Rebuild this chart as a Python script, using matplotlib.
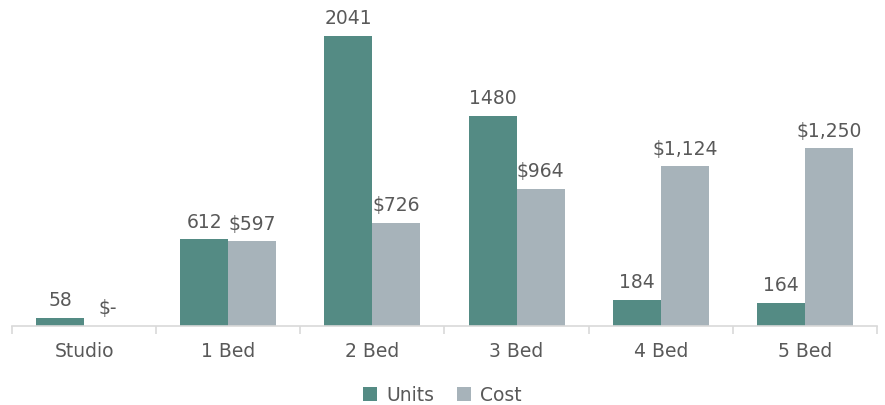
import matplotlib
matplotlib.use("Agg")
import matplotlib.pyplot as plt
import numpy as np

categories = ["Studio", "1 Bed", "2 Bed", "3 Bed", "4 Bed", "5 Bed"]
units = [58, 612, 2041, 1480, 184, 164]
cost = [0, 597, 726, 964, 1124, 1250]
unit_labels = ["58", "612", "2041", "1480", "184", "164"]
cost_labels = ["$-", "$597", "$726", "$964", "$1,124", "$1,250"]

teal = "#548B84"
grey = "#A7B3BA"
txt = "#595959"
plt.rcParams['font.family'] = ['DejaVu Sans']

fig = plt.figure(figsize=(8.85, 4.06), dpi=100)
ax = fig.add_axes([12/885, 1-327/406, 865/885, 327/406])
x = np.arange(len(categories))
w = 1/3
b1 = ax.bar(x - w/2, units, w, color=teal, label="Units")
b2 = ax.bar(x + w/2, cost, w, color=grey, label="Cost")
fs = 13.5
for xi, v, l in zip(x, units, unit_labels):
    ax.text(xi - w/2, v + 60, l, ha='center', va='bottom', fontsize=fs, color=txt)
for xi, v, l in zip(x, cost, cost_labels):
    ax.text(xi + w/2, v + 60, l, ha='center', va='bottom', fontsize=fs, color=txt)

ax.set_xlim(-0.5, len(categories) - 0.5)
ax.set_ylim(0, 2301)
ax.set_yticks([])
for s in ['top', 'right', 'left']:
    ax.spines[s].set_visible(False)
ax.spines['bottom'].set_color('#D9D9D9')
ax.spines['bottom'].set_linewidth(1.2)
ax.set_xticks(x)
ax.set_xticklabels(categories, fontsize=fs, color=txt)
ax.tick_params(axis='x', which='major', length=0, pad=11)
ax.set_xticks(np.arange(-0.5, len(categories)), minor=True)
ax.tick_params(axis='x', which='minor', length=6, color='#D9D9D9', width=1.2)

leg = fig.legend(handles=[b1, b2], labels=["Units", "Cost"], loc='center',
                 bbox_to_anchor=(0.5, 1-396/406), ncol=2, frameon=False,
                 fontsize=fs, handlelength=0.75, handleheight=0.75,
                 handletextpad=0.5, columnspacing=1.2)
for t in leg.get_texts():
    t.set_color(txt)
fig.savefig("out.png", dpi=100)
